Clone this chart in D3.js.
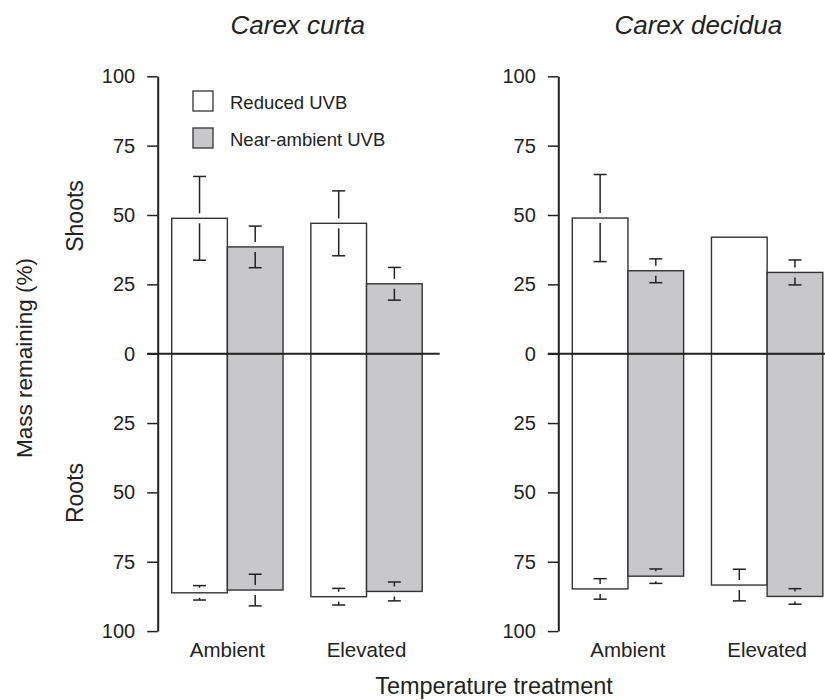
<!DOCTYPE html>
<html>
<head>
<meta charset="utf-8">
<script src="https://cdn.jsdelivr.net/npm/d3@7"></script>
<style>
body { margin: 0; background: #fff; }
text { font-family: "Liberation Sans", Arial, Helvetica, sans-serif; fill: #222; }
.tick text { font-size: 20px; }
.lbl { font-size: 20.5px; }
</style>
</head>
<body>
<div id="chart"></div>
<script>
// data (order: Ambient/Reduced, Ambient/Near, Elevated/Reduced, Elevated/Near)
var species = ["Carex curta", "Carex decidua"];
var temps = ["Ambient", "Elevated"];
var uvb = ["Reduced UVB", "Near-ambient UVB"];
var yTicks = [-100, -75, -50, -25, 0, 25, 50, 75, 100];

var curtaShoots = [48.8, 38.5, 47.0, 25.2];
var curtaShootsSE = [15.1, 7.5, 11.7, 5.9];
var curtaRoots = [86.2, 85.2, 87.6, 85.7];
var curtaRootsSE = [2.6, 5.7, 3.0, 3.4];

var deciduaShoots = [48.9, 29.9, 42.0, 29.3];
var deciduaShootsSE = [15.7, 4.3, null, 4.5];
var deciduaRoots = [84.8, 80.2, 83.4, 87.5];
var deciduaRootsSE = [3.7, 2.6, 5.7, 2.8];

var colors = {"Reduced UVB": "#ffffff", "Near-ambient UVB": "#c8c8ca"};

function rows(sh, shSE, rt, rtSE) {
  var out = [];
  temps.forEach(function(t, i) {
    uvb.forEach(function(u, j) {
      var k = i * 2 + j;
      out.push({temp: t, uvb: u, v: sh[k], se: shSE[k]});
      out.push({temp: t, uvb: u, v: -rt[k], se: rtSE[k]});
    });
  });
  return out;
}
var panels = [
  {name: species[0], data: rows(curtaShoots, curtaShootsSE, curtaRoots, curtaRootsSE), ax: 157.7},
  {name: species[1], data: rows(deciduaShoots, deciduaShootsSE, deciduaRoots, deciduaRootsSE), ax: 558.3}
];

var svg = d3.select("#chart").append("svg").attr("width", 825).attr("height", 700);

var y = d3.scaleLinear().domain([-100, 100]).range([631.1, 76.3]);

panels.forEach(function(p, pi) {
  var g = svg.append("g");
  var x0 = d3.scaleBand().domain(temps).range([p.ax + 14, p.ax + 264.5]).paddingInner(0.2).paddingOuter(0);
  var x1 = d3.scaleBand().domain(uvb).range([0, x0.bandwidth()]);

  // bars
  g.selectAll("rect.bar").data(p.data).enter().append("rect")
    .attr("class", "bar")
    .attr("x", d => x0(d.temp) + x1(d.uvb))
    .attr("width", x1.bandwidth())
    .attr("y", d => y(Math.max(0, d.v)))
    .attr("height", d => Math.abs(y(d.v) - y(0)))
    .attr("fill", d => colors[d.uvb])
    .attr("stroke", "#333").attr("stroke-width", 1.4);

  // error bars (the line breaks around the bar edge, as in the original)
  var gap = 5, cap = 6.5;
  var eb = g.selectAll("g.err").data(p.data.filter(d => d.se != null)).enter().append("g")
    .attr("class", "err")
    .attr("transform", d => "translate(" + (x0(d.temp) + x1(d.uvb) + x1.bandwidth() / 2) + ",0)")
    .attr("stroke", "#222").attr("stroke-width", 1.5);
  [-1, 1].forEach(function(s) {
    eb.append("line")
      .attr("y1", d => y(d.v) - s * gap)
      .attr("y2", d => y(d.v + s * d.se))
      .attr("display", d => Math.abs(y(d.v + s * d.se) - y(d.v)) > gap ? null : "none");
    eb.append("line")
      .attr("x1", -cap).attr("x2", cap)
      .attr("y1", d => y(d.v + s * d.se)).attr("y2", d => y(d.v + s * d.se));
  });

  // zero line
  g.append("line")
    .attr("x1", p.ax - 10.5).attr("x2", p.ax + 282)
    .attr("y1", y(0)).attr("y2", y(0))
    .attr("stroke", "#222").attr("stroke-width", 2);

  // y axis
  var ax = g.append("g").attr("transform", "translate(" + p.ax + ",0)")
    .call(d3.axisLeft(y).tickValues(yTicks).tickSize(10.5).tickSizeOuter(0).tickPadding(12)
      .tickFormat(d => Math.abs(d)));
  ax.select(".domain").attr("stroke", "#222").attr("stroke-width", 2);
  ax.selectAll(".tick line").attr("stroke", "#222").attr("stroke-width", 1.5);
  ax.selectAll(".tick text").attr("fill", "#222").style("font-size", "20px")
    .style("font-family", "'Liberation Sans', Arial, Helvetica, sans-serif");

  // temperature labels
  g.selectAll("text.cat").data(temps).enter().append("text")
    .attr("class", "lbl")
    .attr("x", d => x0(d) + x0.bandwidth() / 2)
    .attr("y", 656.7)
    .attr("text-anchor", "middle")
    .text(d => d);

  // species title
  g.append("text")
    .attr("x", p.ax + 140).attr("y", 34)
    .attr("text-anchor", "middle")
    .style("font-size", "26px").style("font-style", "italic")
    .text(p.name);
});

// legend
var leg = svg.append("g").selectAll("g").data(uvb).enter().append("g")
  .attr("transform", (d, i) => "translate(193," + (91 + i * 37) + ")");
leg.append("rect").attr("width", 20).attr("height", 20)
  .attr("fill", d => colors[d]).attr("stroke", "#333").attr("stroke-width", 1.3);
leg.append("text").attr("x", 37).attr("y", 18).style("font-size", "18.5px").text(d => d);

// axis titles
svg.append("text").attr("transform", "translate(32,358) rotate(-90)")
  .attr("text-anchor", "middle").style("font-size", "22.5px").text("Mass remaining (%)");
svg.append("text").attr("transform", "translate(83,216) rotate(-90)")
  .attr("text-anchor", "middle").style("font-size", "23px").text("Shoots");
svg.append("text").attr("transform", "translate(83,493) rotate(-90)")
  .attr("text-anchor", "middle").style("font-size", "23px").text("Roots");
svg.append("text").attr("x", 494).attr("y", 694)
  .attr("text-anchor", "middle").style("font-size", "23.5px").text("Temperature treatment");
</script>
</body>
</html>
